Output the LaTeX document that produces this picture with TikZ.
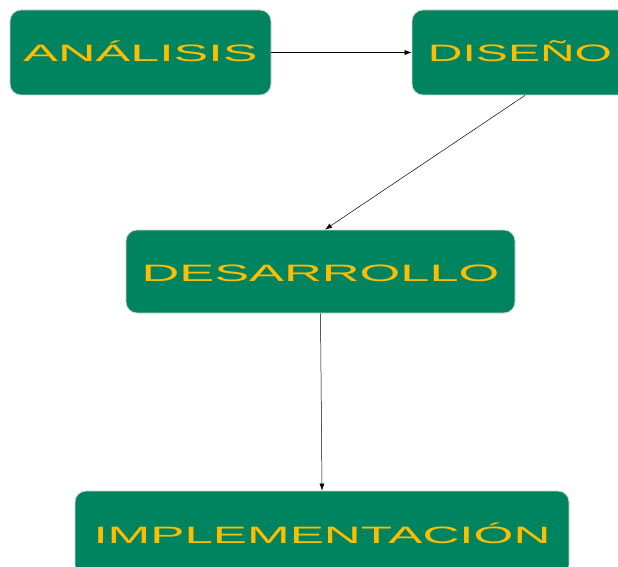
\documentclass[tikz,border=0pt]{standalone}
\usepackage{fontspec}
\usepackage{graphicx}
\usetikzlibrary{arrows.meta}
\newfontfamily\labfont{Liberation Sans}
\definecolor{boxgreen}{HTML}{00845F}
\definecolor{labyellow}{HTML}{FFBD00}
\newcommand\fitlab[2]{\resizebox{#1}{\height}{\fontsize{23.7pt}{24pt}\labfont #2}}
\tikzset{
  stage/.style={draw=black!18, line width=0.8pt, fill=boxgreen, rounded corners=11pt,
    minimum height=85pt, inner sep=0pt, text=labyellow, text height=19pt, text depth=0pt},
  flow/.style={-{Latex[length=7pt,width=5pt]}, line width=0.5pt, draw=black}
}
\begin{document}
\begin{tikzpicture}[x=1pt,y=-1pt]
\useasboundingbox (0,0) rectangle (618,567);
\clip (0,0) rectangle (618,567);
\node[stage, minimum width=261pt] (ana) at (140.5,52.5) {\fitlab{234pt}{ANÁLISIS}};
\node[stage, minimum width=226pt] (dis) at (525,52.5) {\hspace*{-10pt}\fitlab{184pt}{DISEÑO}};
\node[stage, minimum width=389pt, minimum height=83pt] (des) at (320.5,271.5) {\fitlab{358pt}{DESARROLLO}};
\node[stage, minimum width=494pt] (imp) at (322,533.5) {\fitlab{457pt}{IMPLEMENTACIÓN}};
\draw[flow] (ana.east) -- (dis.west);
\draw[flow] (dis.south) -- ([xshift=4.5pt]des.north);
\draw[flow] (des.south) -- (imp.north);
\end{tikzpicture}
\end{document}
